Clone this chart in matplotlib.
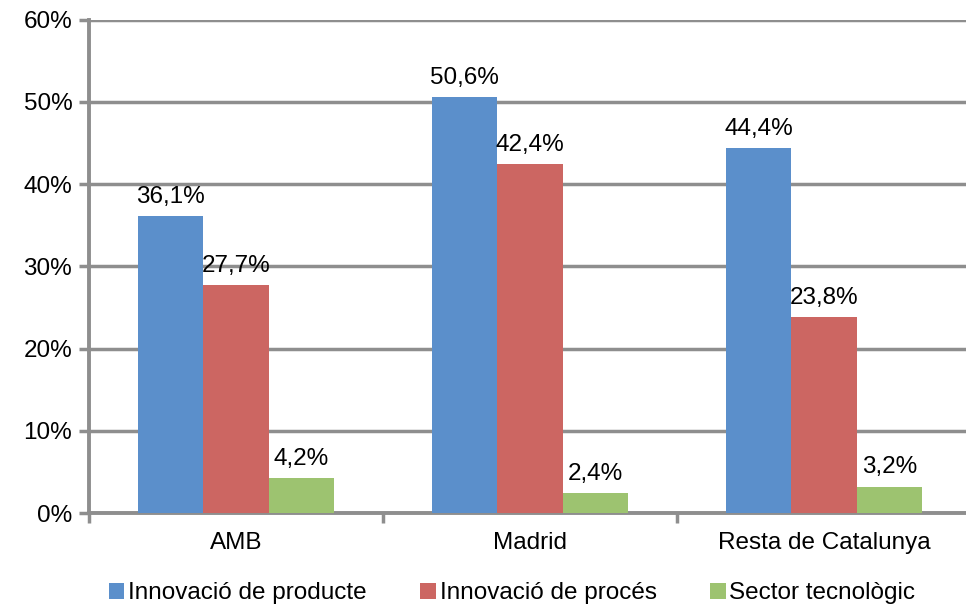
import numpy as np
import matplotlib
matplotlib.use("Agg")
import matplotlib.pyplot as plt
from matplotlib.ticker import FixedLocator

plt.rcParams['font.family'] = ['Liberation Sans', 'DejaVu Sans']

categories = ['AMB', 'Madrid', 'Resta de Catalunya']
series_names = ['Innovació de producte', 'Innovació de procés', 'Sector tecnològic']
producte = [36.1, 50.6, 44.4]
proces = [27.7, 42.4, 23.8]
tecnologic = [4.2, 2.4, 3.2]

colors = ['#5B8FCB', '#CC6662', '#9DC370']
grid_col = '#8E8E8E'

fig = plt.figure(figsize=(9.66, 6.09), dpi=100)
ax = fig.add_axes([0.0921, 0.1576, 0.913, 0.810])

x = np.arange(len(categories))
w = 0.222
offsets = [-w, 0, w]
for vals, off, col, name in zip([producte, proces, tecnologic], offsets, colors, series_names):
    bars = ax.bar(x + off, vals, width=w, color=col, label=name, zorder=3)
    for b, v in zip(bars, vals):
        ax.text(b.get_x() + b.get_width() / 2, v + 1.0, ('%.1f%%' % v).replace('.', ','),
                ha='center', va='bottom', fontsize=17.5, zorder=4)

ax.set_xlim(-0.5, 2.5)
ax.set_ylim(0, 60)
ax.set_yticks(np.arange(0, 61, 10))
ax.set_yticklabels(['%d%%' % t for t in range(0, 61, 10)], fontsize=17.5)
ax.yaxis.grid(True, color=grid_col, linewidth=2.5, zorder=0)
ax.set_axisbelow(True)

ax.set_xticks(x)
ax.set_xticklabels(categories, fontsize=17.5)
ax.tick_params(axis='x', length=0, pad=14)
ax.xaxis.set_minor_locator(FixedLocator([-0.5, 0.5, 1.5, 2.5]))
ax.tick_params(axis='x', which='minor', length=7, width=2.5, color=grid_col)
ax.tick_params(axis='y', length=7, width=2.5, color=grid_col, pad=5)

for s in ['top', 'right']:
    ax.spines[s].set_visible(False)
for s in ['left', 'bottom']:
    ax.spines[s].set_color(grid_col)
    ax.spines[s].set_linewidth(2.8)

leg = fig.legend(loc='lower center', bbox_to_anchor=(0.53, -0.028), ncol=3, frameon=False,
                 fontsize=17.5, handlelength=0.65, handleheight=0.65, handletextpad=0.15,
                 columnspacing=2.2)

fig.savefig('out.png', dpi=100)
